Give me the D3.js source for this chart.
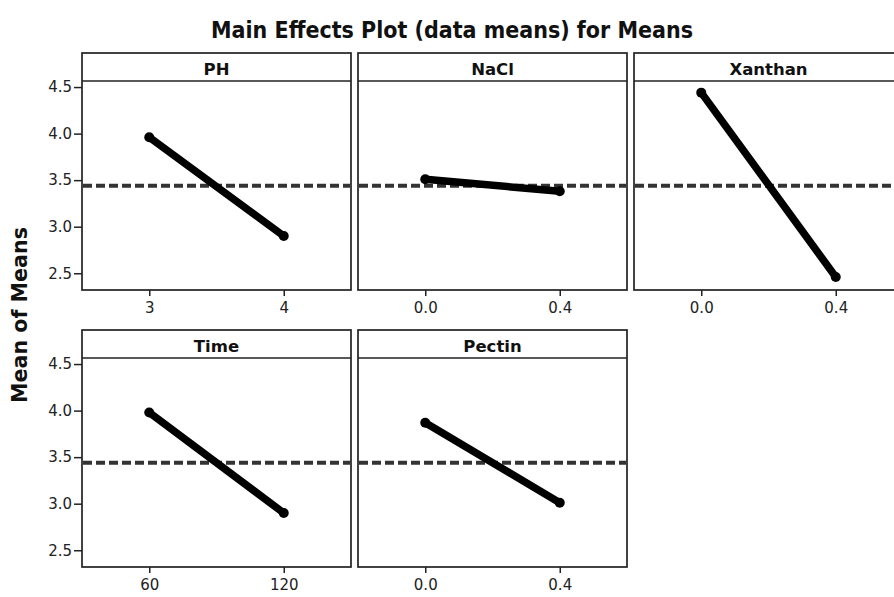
<!DOCTYPE html>
<html>
<head>
<meta charset="utf-8">
<script src="https://cdn.jsdelivr.net/npm/d3@7"></script>
<style>
  html, body { margin: 0; padding: 0; background: #fff; }
  svg { display: block; }
</style>
</head>
<body>
<script>
// ---- Data ----
const factors = ["PH", "NaCl", "Xanthan", "Time", "Pectin"];
const levels = [["3", "4"], ["0.0", "0.4"], ["0.0", "0.4"], ["60", "120"], ["0.0", "0.4"]];
const means = [[3.96, 2.90], [3.51, 3.38], [4.44, 2.46], [3.98, 2.90], [3.87, 3.01]];
const grandMean = 3.44;
const yTicks = [2.5, 3.0, 3.5, 4.0, 4.5];
const yDomain = [2.32, 4.565];
const titleText = "Main Effects Plot (data means) for Means";
const yLabelText = "Mean of Means";

// ---- Layout ----
const W = 894, H = 597;
const svg = d3.select("body").append("svg").attr("width", W).attr("height", H);
const font = "'DejaVu Sans', Verdana, sans-serif";
const condFont = "'DejaVu Sans Condensed', 'DejaVu Sans', Verdana, sans-serif";

const colX = [82, 358, 634];
const rowY = [53, 330];
const panelW = 269, panelH = 237, stripH = 28;

// Title
const title = svg.append("text")
  .attr("x", 452).attr("y", 38)
  .attr("text-anchor", "middle")
  .attr("font-family", condFont).attr("font-weight", "bold")
  .attr("font-size", 22).attr("fill", "#111")
  .text(titleText);
{
  const len = title.node().getComputedTextLength();
  title.attr("font-size", Math.min(23.5, 22 * 482 / len));
}

// Y label
const yl = svg.append("text")
  .attr("transform", "translate(27,315) rotate(-90)")
  .attr("text-anchor", "middle")
  .attr("font-family", font).attr("font-weight", "bold")
  .attr("font-size", 18).attr("fill", "#111")
  .text(yLabelText);
{
  const len = yl.node().getComputedTextLength();
  yl.attr("font-size", 18 * 176 / len);
}

factors.forEach((f, i) => {
  const col = i % 3, row = Math.floor(i / 3);
  const x0 = colX[col], y0 = rowY[row];
  const g = svg.append("g").attr("transform", `translate(${x0},${y0})`);

  const x = d3.scalePoint().domain(levels[i]).range([0, panelW]).padding(0.5);
  const y = d3.scaleLinear().domain(yDomain).range([panelH, stripH]);

  // strip title
  g.append("text")
    .attr("x", panelW / 2).attr("y", 21.5)
    .attr("text-anchor", "middle")
    .attr("font-family", font).attr("font-weight", "bold")
    .attr("font-size", 16.5).attr("fill", "#111")
    .text(f);

  // grand mean dashed line
  g.append("line")
    .attr("x1", 1).attr("x2", panelW - 1)
    .attr("y1", y(grandMean)).attr("y2", y(grandMean))
    .attr("stroke", "#333").attr("stroke-width", 4.2)
    .attr("stroke-dasharray", "9,4");

  // effect line
  const pts = levels[i].map((l, k) => [x(l), y(means[i][k])]);
  g.append("path")
    .attr("d", d3.line()(pts))
    .attr("fill", "none").attr("stroke", "#000")
    .attr("stroke-width", 7.5).attr("stroke-linecap", "round");
  g.selectAll("circle.pt").data(pts).enter().append("circle")
    .attr("class", "pt")
    .attr("cx", d => d[0]).attr("cy", d => d[1]).attr("r", 5)
    .attr("fill", "#000");

  // borders
  g.append("rect").attr("x", 0).attr("y", 0).attr("width", panelW).attr("height", panelH)
    .attr("fill", "none").attr("stroke", "#222").attr("stroke-width", 1.7);
  g.append("line").attr("x1", 0).attr("x2", panelW).attr("y1", stripH).attr("y2", stripH)
    .attr("stroke", "#222").attr("stroke-width", 1.7);

  // x axis
  const xa = g.append("g").attr("transform", `translate(0,${panelH})`)
    .call(d3.axisBottom(x).tickSize(6).tickPadding(6));
  xa.select(".domain").remove();
  xa.selectAll("line").attr("stroke", "#222").attr("stroke-width", 1.5);
  xa.selectAll("text").attr("font-family", font).attr("font-size", 15).attr("fill", "#222");

  // y axis on left column only
  if (col === 0) {
    const ya = g.append("g")
      .call(d3.axisLeft(y).tickValues(yTicks).tickFormat(d3.format(".1f")).tickSize(8).tickPadding(2));
    ya.select(".domain").remove();
    ya.selectAll("line").attr("stroke", "#222").attr("stroke-width", 1.5);
    ya.selectAll("text").attr("font-family", font).attr("font-size", 15).attr("fill", "#222");
  }
});
</script>
</body>
</html>
